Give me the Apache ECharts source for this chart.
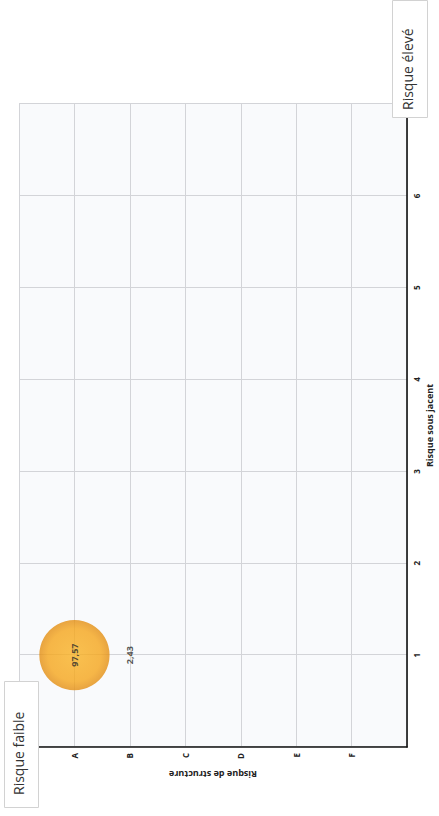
<!DOCTYPE html>
<html>
<head>
<meta charset="utf-8">
<script src="https://cdn.jsdelivr.net/npm/echarts@6/dist/echarts.min.js"></script>
<style>
  html, body { margin: 0; padding: 0; background: #ffffff; overflow: hidden; }
  body { width: 439px; height: 816px; position: relative; }
  /* landscape page turned a quarter turn, as on the printed sheet */
  #chart {
    position: absolute; left: 0; top: 0;
    width: 816px; height: 439px;
    transform-origin: 0 0;
    transform: translateY(816px) rotate(-90deg);
  }
</style>
</head>
<body>
<div id="chart"></div>
<script>
// Structure risk levels (vertical axis, top to bottom)
const structureLevels = ['A', 'B', 'C', 'D', 'E', 'F'];
// Underlying risk levels (horizontal axis)
const underlyingLevels = [1, 2, 3, 4, 5, 6];
// Portfolio allocation per cell (%)
const pointUnderlying = [1, 1];
const pointStructure = ['A', 'B'];
const pointShares = [97.57, 2.43];

const FONT = '"Open Sans", "Noto Sans", sans-serif';

const points = pointShares.map((v, i) => [
  pointUnderlying[i],
  structureLevels.indexOf(pointStructure[i]) + 1,
  v
]);

const chart = echarts.init(document.getElementById('chart'), null, { renderer: 'svg' });

const boxStyle = { fill: '#ffffff', stroke: '#d2d2d2', lineWidth: 1 };

const option = {
  backgroundColor: '#ffffff',
  animation: false,
  grid: {
    left: 69, right: 104, top: 19, bottom: 24,
    show: true, backgroundColor: '#f9fafc', borderWidth: 0
  },
  xAxis: {
    type: 'value', min: 0, max: underlyingLevels.length + 1, interval: 1,
    name: 'Risque sous jacent', nameLocation: 'middle', nameGap: 15,
    nameTextStyle: { fontFamily: FONT, fontSize: 9, fontWeight: 'bold', color: '#222' },
    axisLine: { show: true, onZero: false, lineStyle: { color: '#111', width: 1.6 } },
    axisTick: { show: false },
    axisLabel: {
      margin: 5, fontFamily: FONT, fontSize: 8, fontWeight: 'bold', color: '#222',
      formatter: v => underlyingLevels.includes(v) ? String(v) : ''
    },
    splitLine: { show: true, lineStyle: { color: '#d3d4d8', width: 1 } }
  },
  yAxis: {
    type: 'value', min: 0, max: structureLevels.length + 1, interval: 1, inverse: true,
    name: 'Risque de structure', nameLocation: 'middle', nameGap: 20,
    nameTextStyle: { fontFamily: FONT, fontSize: 9, fontWeight: 'bold', color: '#222' },
    axisLine: { show: true, onZero: false, lineStyle: { color: '#111', width: 1.6 } },
    axisTick: { show: false },
    axisLabel: {
      margin: 6, fontFamily: FONT, fontSize: 8, fontWeight: 'bold', color: '#222',
      formatter: v => structureLevels[v - 1] || ''
    },
    splitLine: { show: true, lineStyle: { color: '#d3d4d8', width: 1 } }
  },
  series: [{
    type: 'scatter',
    data: points,
    symbol: 'circle',
    symbolSize: d => d[2] * 0.72,
    itemStyle: {
      color: {
        type: 'radial', x: 0.5, y: 0.5, r: 0.5,
        colorStops: [
          { offset: 0, color: '#f9b224' },
          { offset: 0.75, color: '#f5a51a' },
          { offset: 1, color: '#e38e12' }
        ]
      }
    },
    label: {
      show: true, position: 'inside',
      fontFamily: FONT, fontSize: 9, fontWeight: 'bold', color: '#2a2a2a',
      formatter: p => p.value[2].toFixed(2).replace('.', ',')
    },
    z: 5
  }],
  graphic: [
    { type: 'rect', left: 8, top: 4, z: 100,
      shape: { width: 126, height: 34 }, style: boxStyle },
    { type: 'text', left: 21, top: 11, z: 101,
      style: { text: 'Risque faible', fill: '#333', font: '14px ' + FONT } },
    { type: 'rect', left: 698, top: 392, z: 100,
      shape: { width: 117, height: 35 }, style: boxStyle },
    { type: 'text', left: 706, top: 400, z: 101,
      style: { text: 'Risque élevé', fill: '#333', font: '14px ' + FONT } }
  ]
};

chart.setOption(option);
</script>
</body>
</html>
